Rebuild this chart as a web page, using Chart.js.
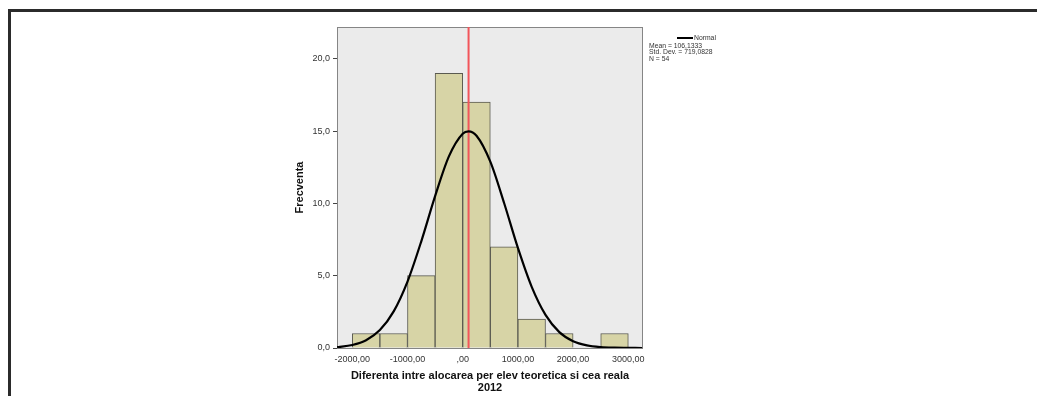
<!DOCTYPE html>
<html>
<head>
<meta charset="utf-8">
<script src="https://cdn.jsdelivr.net/npm/chart.js@4"></script>
<style>
  body { margin: 0; background: #fff; font-family: "Liberation Sans", Arial, sans-serif; }
  #wrap { position: relative; width: 1037px; height: 396px; overflow: hidden; }
  #frame { position: absolute; left: 8px; top: 9px; width: 1100px; height: 500px;
           border-top: 3px solid #2b2b2b; border-left: 3px solid #2b2b2b; }
  #legend { position: absolute; left: 649px; top: 35px; font-size: 6.8px; line-height: 6.2px; color: #333; }
  #legend .swatch { display: inline-block; width: 16px; height: 2px; background: #000; vertical-align: middle; margin-right: 1px; }
  #legend .first { padding-left: 28px; margin-bottom: 2px; }
</style>
</head>
<body>
<div id="wrap">
  <div id="frame"></div>
  <canvas id="myChart"></canvas>
  <div id="legend">
    <div class="first"><span class="swatch"></span>Normal</div>
    <div>Mean = 106,1333</div>
    <div>Std. Dev. = 719,0828</div>
    <div>N = 54</div>
  </div>
</div>
<script>
// histogram bins (centres, width 500) and counts
var binCentres = [-1750, -1250, -750, -250, 250, 750, 1250, 1750, 2250, 2750];
var binCounts  = [1, 1, 5, 19, 17, 7, 2, 1, 0, 1];

// normal curve
var curveX = [-2275, -2250, -2000, -1750, -1500, -1250, -1000, -750, -500, -250, 0, 106, 250, 500, 750, 1000, 1250, 1500, 1750, 2000, 2250, 2500, 2750, 3000, 3250];
var curveY = [0.06, 0.07, 0.21, 0.54, 1.24, 2.53, 4.59, 7.38, 10.5, 13.25, 14.82, 14.98, 14.68, 12.89, 10.03, 6.92, 4.23, 2.29, 1.10, 0.47, 0.18, 0.06, 0.02, 0.01, 0.0];

var meanValue = 106.1333;
var xTicks = [-2000, -1000, 0, 1000, 2000, 3000];
var yTicks = [0, 5, 10, 15, 20];
var xMin = -2277, xMax = 3266, yMax = 22.2;

var plotBox = {
    id: 'plotBox',
    beforeDraw: function(chart) {
        var a = chart.chartArea, c = chart.ctx;
        c.save();
        c.fillStyle = '#ebebeb';
        c.fillRect(a.left, a.top, a.right - a.left, a.bottom - a.top);
        c.restore();
    },
    beforeDatasetsDraw: function(chart) {
        var a = chart.chartArea, c = chart.ctx;
        c.save();
        c.strokeStyle = '#858585';
        c.lineWidth = 1;
        c.strokeRect(a.left + 0.5, a.top + 0.5, a.right - a.left - 1, a.bottom - a.top);
        c.restore();
    }
};

var ctx = document.getElementById('myChart').getContext('2d');
var myChart = new Chart(ctx, {
    type: 'bar',
    data: {
        datasets: [{
            type: 'line',
            label: 'Normal',
            data: curveX.map(function(x, i) { return {x: x, y: curveY[i]}; }),
            borderColor: '#000',
            borderWidth: 2.2,
            pointRadius: 0,
            cubicInterpolationMode: 'monotone',
            order: 0
        }, {
            type: 'line',
            label: 'Mean',
            data: [{x: meanValue, y: 0}, {x: meanValue, y: yMax}],
            borderColor: '#f2555a',
            borderWidth: 2,
            pointRadius: 0,
            order: 1
        }, {
            type: 'bar',
            label: 'Frecventa',
            data: binCentres.map(function(x, i) { return {x: x, y: binCounts[i]}; }),
            backgroundColor: '#d7d4a6',
            borderColor: '#5a5a50',
            borderWidth: 1,
            barPercentage: 1,
            categoryPercentage: 1,
            order: 2
        }]
    },
    options: {
        responsive: true,
        maintainAspectRatio: false,
        animation: false,
        layout: { padding: { left: 293, right: 394, top: 27, bottom: 2 } },
        plugins: { legend: { display: false }, tooltip: { enabled: false } },
        scales: {
            x: {
                type: 'linear',
                offset: false,
                min: xMin,
                max: xMax,
                afterBuildTicks: function(scale) { scale.ticks = xTicks.map(function(v) { return {value: v}; }); },
                afterFit: function(scale) { scale.height = 46; },
                grid: { drawOnChartArea: false, drawTicks: false },
                border: { display: false },
                ticks: {
                    autoSkip: false, maxRotation: 0, padding: 6,
                    color: '#333',
                    font: { family: 'Liberation Sans', size: 9 },
                    callback: function(v) { return v === 0 ? ',00' : v.toFixed(2).replace('.', ','); }
                },
                title: {
                    display: true,
                    text: ['Diferenta intre alocarea per elev teoretica si cea reala', '2012'],
                    color: '#111',
                    padding: 0,
                    font: { family: 'Liberation Sans', size: 11, weight: 'bold', lineHeight: 1.1 }
                }
            },
            y: {
                min: 0,
                max: yMax,
                afterBuildTicks: function(scale) { scale.ticks = yTicks.map(function(v) { return {value: v}; }); },
                afterFit: function(scale) { scale.width = 44; },
                grid: { drawOnChartArea: false, drawTicks: true, tickLength: 4, color: '#444' },
                border: { display: false },
                ticks: {
                    padding: 3,
                    color: '#333',
                    font: { family: 'Liberation Sans', size: 9 },
                    callback: function(v) { return v.toFixed(1).replace('.', ','); }
                },
                title: {
                    display: true,
                    text: 'Frecventa',
                    color: '#111',
                    padding: 0,
                    font: { family: 'Liberation Sans', size: 11, weight: 'bold', lineHeight: 1.2 }
                }
            }
        }
    },
    plugins: [plotBox]
});
</script>
</body>
</html>
